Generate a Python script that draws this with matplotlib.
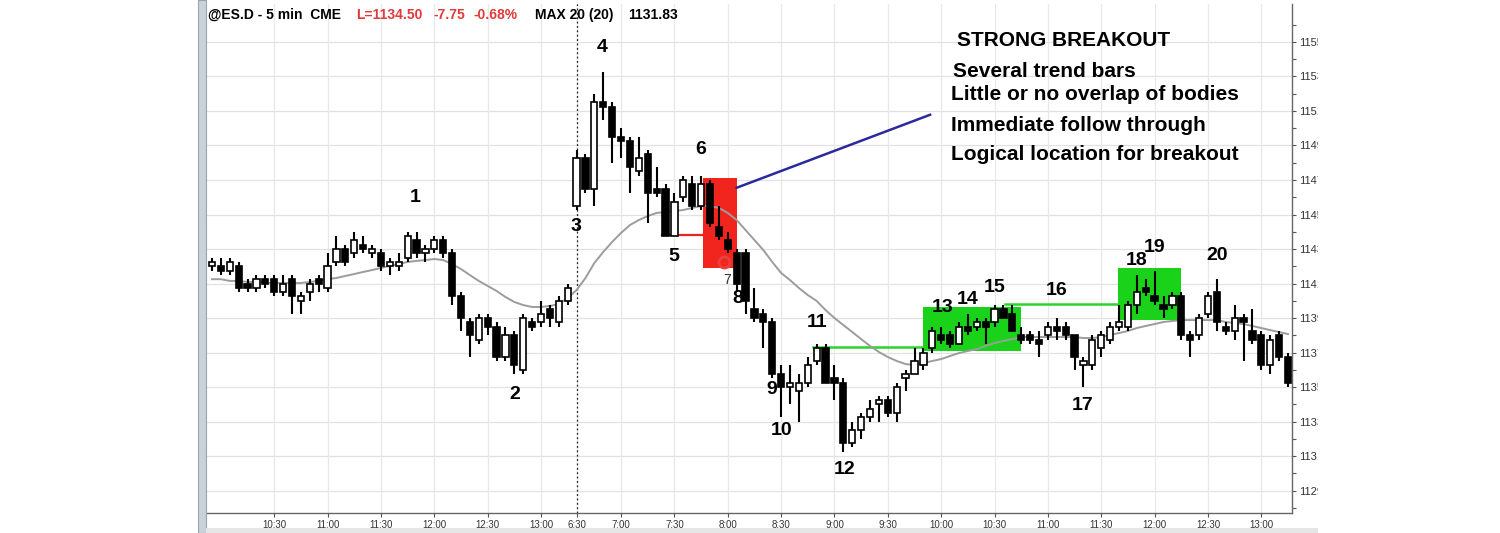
import matplotlib.pyplot as plt
from matplotlib.patches import Rectangle

plt.rcParams['font.family'] = ['Liberation Sans', 'DejaVu Sans']

# ES 5 min bars, two sessions
opens = [1142.00, 1142.00, 1141.75, 1142.00, 1141.00, 1140.75, 1141.25, 1141.25, 1140.50, 1141.25,
         1140.00, 1140.50, 1141.25, 1140.75, 1142.25, 1143.00, 1142.75, 1143.25, 1142.75, 1142.75,
         1142.00, 1142.00, 1142.50, 1143.50, 1142.75, 1143.00, 1143.50, 1142.75, 1140.25, 1138.75,
         1137.75, 1139.00, 1138.50, 1136.75, 1138.00, 1136.00, 1138.75, 1138.75, 1139.50, 1138.75,
         1140.00,
         1145.50, 1148.25, 1146.50, 1151.50, 1151.25, 1149.50, 1149.25, 1147.50, 1148.50, 1146.50,
         1146.50, 1143.75, 1146.00, 1146.75, 1145.50, 1146.75, 1144.25, 1143.50, 1142.75, 1142.75,
         1139.50, 1139.25, 1138.75, 1135.75, 1135.00, 1134.75, 1135.25, 1136.50, 1137.25, 1135.50,
         1135.25, 1131.75, 1132.50, 1133.25, 1134.00, 1134.25, 1133.50, 1135.50, 1135.75, 1136.25,
         1137.25, 1138.00, 1138.00, 1137.50, 1138.50, 1138.50, 1138.75, 1138.75, 1139.50, 1139.25,
         1138.00, 1138.00, 1137.75, 1138.00, 1138.50, 1138.50, 1138.00, 1136.25, 1136.25, 1137.25,
         1137.75, 1138.50, 1138.50, 1139.75, 1140.75, 1140.25, 1139.75, 1139.75, 1140.25, 1138.00,
         1138.00, 1139.25, 1140.50, 1138.50, 1138.25, 1139.00, 1138.25, 1138.00, 1136.25, 1138.00,
         1136.75]
highs = [1142.50, 1142.50, 1142.50, 1142.25, 1141.25, 1141.50, 1141.50, 1141.50, 1141.50, 1141.50,
         1140.50, 1141.25, 1141.50, 1142.75, 1143.75, 1143.25, 1144.00, 1143.75, 1143.25, 1143.00,
         1142.50, 1142.75, 1144.00, 1144.00, 1143.25, 1143.75, 1143.75, 1143.00, 1140.50, 1139.00,
         1139.25, 1139.25, 1138.75, 1138.50, 1138.25, 1139.25, 1139.00, 1140.00, 1139.75, 1140.25,
         1141.00,
         1148.75, 1148.50, 1152.00, 1153.25, 1151.50, 1150.00, 1149.50, 1149.50, 1148.75, 1147.75,
         1146.75, 1146.25, 1147.25, 1147.25, 1147.25, 1147.00, 1145.50, 1144.00, 1143.00, 1143.00,
         1140.75, 1139.50, 1139.00, 1136.25, 1136.25, 1135.75, 1136.75, 1137.50, 1137.50, 1136.25,
         1135.50, 1133.00, 1133.50, 1134.25, 1134.50, 1134.50, 1135.25, 1136.00, 1137.25, 1137.25,
         1138.50, 1138.50, 1138.25, 1138.75, 1139.25, 1139.00, 1139.00, 1139.75, 1139.75, 1139.75,
         1138.50, 1138.25, 1138.25, 1138.75, 1139.00, 1138.75, 1138.00, 1136.75, 1138.00, 1138.25,
         1138.75, 1139.75, 1140.00, 1141.50, 1141.25, 1141.75, 1140.25, 1140.50, 1140.50, 1138.25,
         1139.25, 1140.50, 1141.25, 1138.75, 1139.75, 1139.25, 1139.50, 1138.25, 1138.00, 1138.25,
         1137.00]
lows = [1141.75, 1141.50, 1141.50, 1140.50, 1140.50, 1140.50, 1140.75, 1140.25, 1140.25, 1139.25,
        1139.25, 1140.00, 1140.50, 1140.50, 1142.00, 1142.00, 1142.50, 1142.75, 1142.50, 1141.75,
        1141.50, 1141.75, 1142.25, 1142.50, 1142.25, 1142.75, 1142.50, 1139.75, 1138.25, 1136.75,
        1137.50, 1138.00, 1136.50, 1136.50, 1135.75, 1135.75, 1138.25, 1138.50, 1138.50, 1138.50,
        1139.75,
        1145.25, 1146.25, 1145.50, 1150.50, 1148.00, 1148.25, 1146.25, 1147.25, 1144.50, 1146.00,
        1143.75, 1143.75, 1145.75, 1145.25, 1145.25, 1144.25, 1143.50, 1142.75, 1140.50, 1139.25,
        1138.75, 1137.25, 1135.50, 1133.25, 1134.00, 1133.00, 1135.00, 1136.25, 1135.25, 1134.25,
        1131.25, 1131.50, 1132.00, 1133.00, 1133.00, 1133.25, 1133.00, 1134.75, 1135.75, 1136.00,
        1137.00, 1137.50, 1137.25, 1137.50, 1138.00, 1138.25, 1137.50, 1138.50, 1139.00, 1138.25,
        1137.50, 1137.50, 1136.75, 1137.75, 1137.75, 1137.75, 1136.00, 1135.00, 1136.00, 1136.75,
        1137.50, 1138.25, 1138.25, 1139.25, 1140.25, 1139.75, 1139.00, 1139.50, 1137.75, 1136.75,
        1137.75, 1139.00, 1138.25, 1138.00, 1137.75, 1136.50, 1137.50, 1136.00, 1135.75, 1136.50,
        1135.00]
closes = [1142.25, 1141.75, 1142.25, 1140.75, 1140.75, 1141.25, 1141.00, 1140.50, 1141.00, 1140.25,
          1140.25, 1141.00, 1141.00, 1142.00, 1143.00, 1142.25, 1143.50, 1143.00, 1143.00, 1142.00,
          1142.25, 1142.25, 1143.75, 1142.75, 1143.00, 1143.50, 1142.75, 1140.25, 1139.00, 1138.00,
          1139.00, 1138.50, 1136.75, 1138.00, 1136.25, 1139.00, 1138.50, 1139.25, 1139.00, 1140.00,
          1140.75,
          1148.25, 1146.50, 1151.50, 1151.25, 1149.50, 1149.25, 1147.75, 1148.25, 1146.25, 1146.25,
          1143.75, 1145.75, 1147.00, 1145.50, 1146.75, 1144.50, 1143.75, 1143.00, 1141.00, 1140.00,
          1139.00, 1138.75, 1135.75, 1135.00, 1135.25, 1135.25, 1136.25, 1137.25, 1135.25, 1135.25,
          1131.75, 1132.50, 1133.25, 1133.75, 1134.25, 1133.50, 1135.00, 1135.75, 1136.50, 1137.00,
          1138.25, 1137.75, 1137.50, 1138.50, 1138.25, 1138.75, 1138.50, 1139.50, 1139.00, 1138.25,
          1137.75, 1137.75, 1137.50, 1138.50, 1138.25, 1138.00, 1136.75, 1136.50, 1137.75, 1138.00,
          1138.50, 1138.75, 1139.75, 1140.50, 1140.50, 1140.00, 1139.50, 1140.25, 1138.00, 1137.75,
          1139.00, 1140.25, 1138.75, 1138.25, 1139.00, 1138.75, 1137.75, 1136.25, 1137.75, 1136.75,
          1135.25]
ma20 = [1141.25, 1141.25, 1141.15, 1141.15, 1141.09, 1141.09, 1141.03, 1141.03, 1141.03, 1141.03,
        1141.03, 1141.09, 1141.15, 1141.26, 1141.32, 1141.44, 1141.55, 1141.67, 1141.78, 1141.90,
        1142.02, 1142.13, 1142.25, 1142.31, 1142.36, 1142.42, 1142.36, 1142.13, 1141.84, 1141.49,
        1141.15, 1140.86, 1140.57, 1140.22, 1139.93, 1139.75, 1139.64, 1139.64, 1139.70, 1139.81,
        1140.16, 1140.62, 1141.32, 1142.19, 1142.83, 1143.41, 1143.93, 1144.39, 1144.68, 1144.91,
        1145.09, 1145.15, 1145.20, 1145.26, 1145.38, 1145.49, 1145.49, 1145.38, 1145.09, 1144.68,
        1144.10, 1143.52, 1142.94, 1142.25, 1141.61, 1141.20, 1140.74, 1140.33, 1139.99, 1139.46,
        1139.00, 1138.59, 1138.19, 1137.78, 1137.38, 1137.03, 1136.74, 1136.51, 1136.33, 1136.28,
        1136.39, 1136.51, 1136.62, 1136.80, 1136.97, 1137.09, 1137.20, 1137.38, 1137.55, 1137.67,
        1137.78, 1137.90, 1137.90, 1137.90, 1137.90, 1137.90, 1137.90, 1137.90, 1137.84, 1137.84,
        1137.90, 1138.02, 1138.13, 1138.25, 1138.42, 1138.54, 1138.65, 1138.77, 1138.83, 1138.88,
        1138.88, 1138.88, 1138.88, 1138.88, 1138.77, 1138.71, 1138.65, 1138.54, 1138.42, 1138.30,
        1138.19, 1138.07]

day1_first, day1_bars = 9 * 60 + 55, 41   # first bar 9:55
day2_first = 6 * 60 + 35                  # first bar 6:35
time_labels = ['10:30', '11:00', '11:30', '12:00', '12:30', '13:00',
               '6:30', '7:00', '7:30', '8:00', '8:30', '9:00', '9:30', '10:00',
               '10:30', '11:00', '11:30', '12:00', '12:30', '13:00']
label_day = [1] * 6 + [2] * 14
price_ticks = list(range(1129, 1157, 2))

# swing numbers: (label, bar index, price)
swings = [('1', 22.9, 1146.0), ('2', 34.1, 1134.55), ('3', 40.9, 1144.3), ('4', 43.85, 1154.65),
          ('5', 51.95, 1142.55), ('6', 55.0, 1148.75), ('8', 59.15, 1140.15), ('9', 63.0, 1134.85),
          ('10', 64.1, 1132.5), ('11', 68.0, 1138.75), ('12', 71.1, 1130.2), ('13', 82.2, 1139.6),
          ('14', 85.0, 1140.05), ('15', 88.05, 1140.75), ('16', 95.0, 1140.6), ('17', 97.95, 1133.95),
          ('18', 104.0, 1142.35), ('19', 106.05, 1143.1), ('20', 113.0, 1142.65)]

notes = ['Several trend bars', 'Little or no overlap of bodies',
         'Immediate follow through', 'Logical location for breakout']


def bar_index(label, day):
    h, m = map(int, label.split(':'))
    t = h * 60 + m
    if day == 1:
        return (t - day1_first) // 5
    return max(0, (t - day2_first) // 5) + day1_bars


W, H = 1500, 533
fig = plt.figure(figsize=(W / 100, H / 100), dpi=100)
fig.patch.set_facecolor('white')
ax = fig.add_axes([207 / W, 1 - 513 / H, (1292 - 207) / W, (513 - 4) / H])
ax.set_facecolor('white')

n = len(closes)
xs = list(range(n))

# grid
for p in price_ticks:
    ax.axhline(p, color='#e2e2e2', lw=0.9, zorder=0)
tick_pos = [bar_index(l, d) for l, d in zip(time_labels, label_day)]
for tp in tick_pos:
    ax.axvline(tp, color='#e8e8e8', lw=0.9, zorder=0)
ax.axvline(day1_bars, color='#222222', lw=0.9, ls=(0, (1.5, 2)), zorder=1)

# highlighted zones (behind the bars)
ax.add_patch(Rectangle((55.2, 1141.9), 3.8, 5.22, facecolor='#f2251e', edgecolor='none', zorder=1))
ax.add_patch(Rectangle((79.95, 1137.09), 11.0, 2.55, facecolor='#19d219', edgecolor='none', zorder=1))
ax.add_patch(Rectangle((101.9, 1138.88), 7.05, 3.02, facecolor='#19d219', edgecolor='none', zorder=1))
ax.plot([50.6, 55.2], [1143.8, 1143.8], color='#e8251e', lw=1.6, zorder=2)
ax.plot([67.6, 79.95], [1137.32, 1137.32], color='#2bd42b', lw=1.8, zorder=2)
ax.plot([89.2, 101.9], [1139.8, 1139.8], color='#2bd42b', lw=1.8, zorder=2)
ax.plot([59.0, 80.75], [1146.55, 1150.78], color='#2a2a9c', lw=1.8, zorder=2)

# moving average
ax.plot(xs, ma20, color='#9c9c9c', lw=1.4, zorder=2)

# candles
ax.vlines(xs, lows, highs, color='black', lw=1.5, zorder=3)
for i in xs:
    o, c = opens[i], closes[i]
    up = c >= o
    bottom = min(o, c)
    hgt = max(abs(c - o), 0.06)
    ax.add_patch(Rectangle((i - 0.35, bottom), 0.7, hgt,
                           facecolor='white' if up else 'black',
                           edgecolor='black', lw=1.2, zorder=4))

ax.plot([57.57], [1142.25], marker='o', ms=8, mfc='none', mec='#e84040', mew=2, zorder=5)
ax.text(57.9, 1141.2, '7', fontsize=10, color='#333333', ha='center', va='center', zorder=5)

for s, bx, py in swings:
    ax.text(bx, py, s, fontsize=14, fontweight='bold', ha='center', va='center', zorder=6)

ax.text(83.75, 1155.1, 'STRONG BREAKOUT', fontsize=15, fontweight='bold', ha='left', va='center')
for k, line in enumerate(notes):
    ax.text(83.1 + (0.2 if k == 0 else 0), [1153.3, 1151.95, 1150.15, 1148.5][k], line,
            fontsize=15, fontweight='bold', ha='left', va='center')

# axes
ax.set_xlim(-0.56, 121.45)
ax.set_ylim(1127.7, 1157.2)
ax.set_xticks(tick_pos)
ax.set_xticklabels(time_labels, fontsize=7, color='#333333')
ax.yaxis.tick_right()
ax.set_yticks(price_ticks)
ax.set_yticks(range(1128, 1157), minor=True)
ax.set_yticklabels([str(p) for p in price_ticks], fontsize=8, color='#333333')
ax.tick_params(axis='both', which='both', length=3, width=0.8, color='#555555', pad=2)
for side in ['top', 'left']:
    ax.spines[side].set_visible(False)
for side in ['right', 'bottom']:
    ax.spines[side].set_color('#666666')
    ax.spines[side].set_linewidth(1.0)

# header
header = [('@ES.D - 5 min  CME', 208, 'black'), ('L=1134.50', 356, '#e03a3a'),
          ('-7.75', 434, '#e03a3a'), ('-0.68%', 473, '#e03a3a'),
          ('MAX 20 (20)', 535, 'black'), ('1131.83', 628, 'black')]
for s, px, col in header:
    fig.text(px / W, 1 - 15 / H, s, fontsize=10, fontweight='bold', color=col, ha='left', va='center')

# window frame around the chart
fig.add_artist(Rectangle((198 / W, 0), 8 / W, 1, transform=fig.transFigure,
                         facecolor='#c9d1da', edgecolor='#9aa4b0', lw=0.8, zorder=10))
fig.add_artist(Rectangle((1318 / W, 0), 182 / W, 1, transform=fig.transFigure,
                         facecolor='white', edgecolor='none', zorder=10))
fig.add_artist(Rectangle((206 / W, 0), 1112 / W, 5 / H, transform=fig.transFigure,
                         facecolor='#e6e6e6', edgecolor='none', zorder=10))

fig.savefig('out.png', dpi=100)
